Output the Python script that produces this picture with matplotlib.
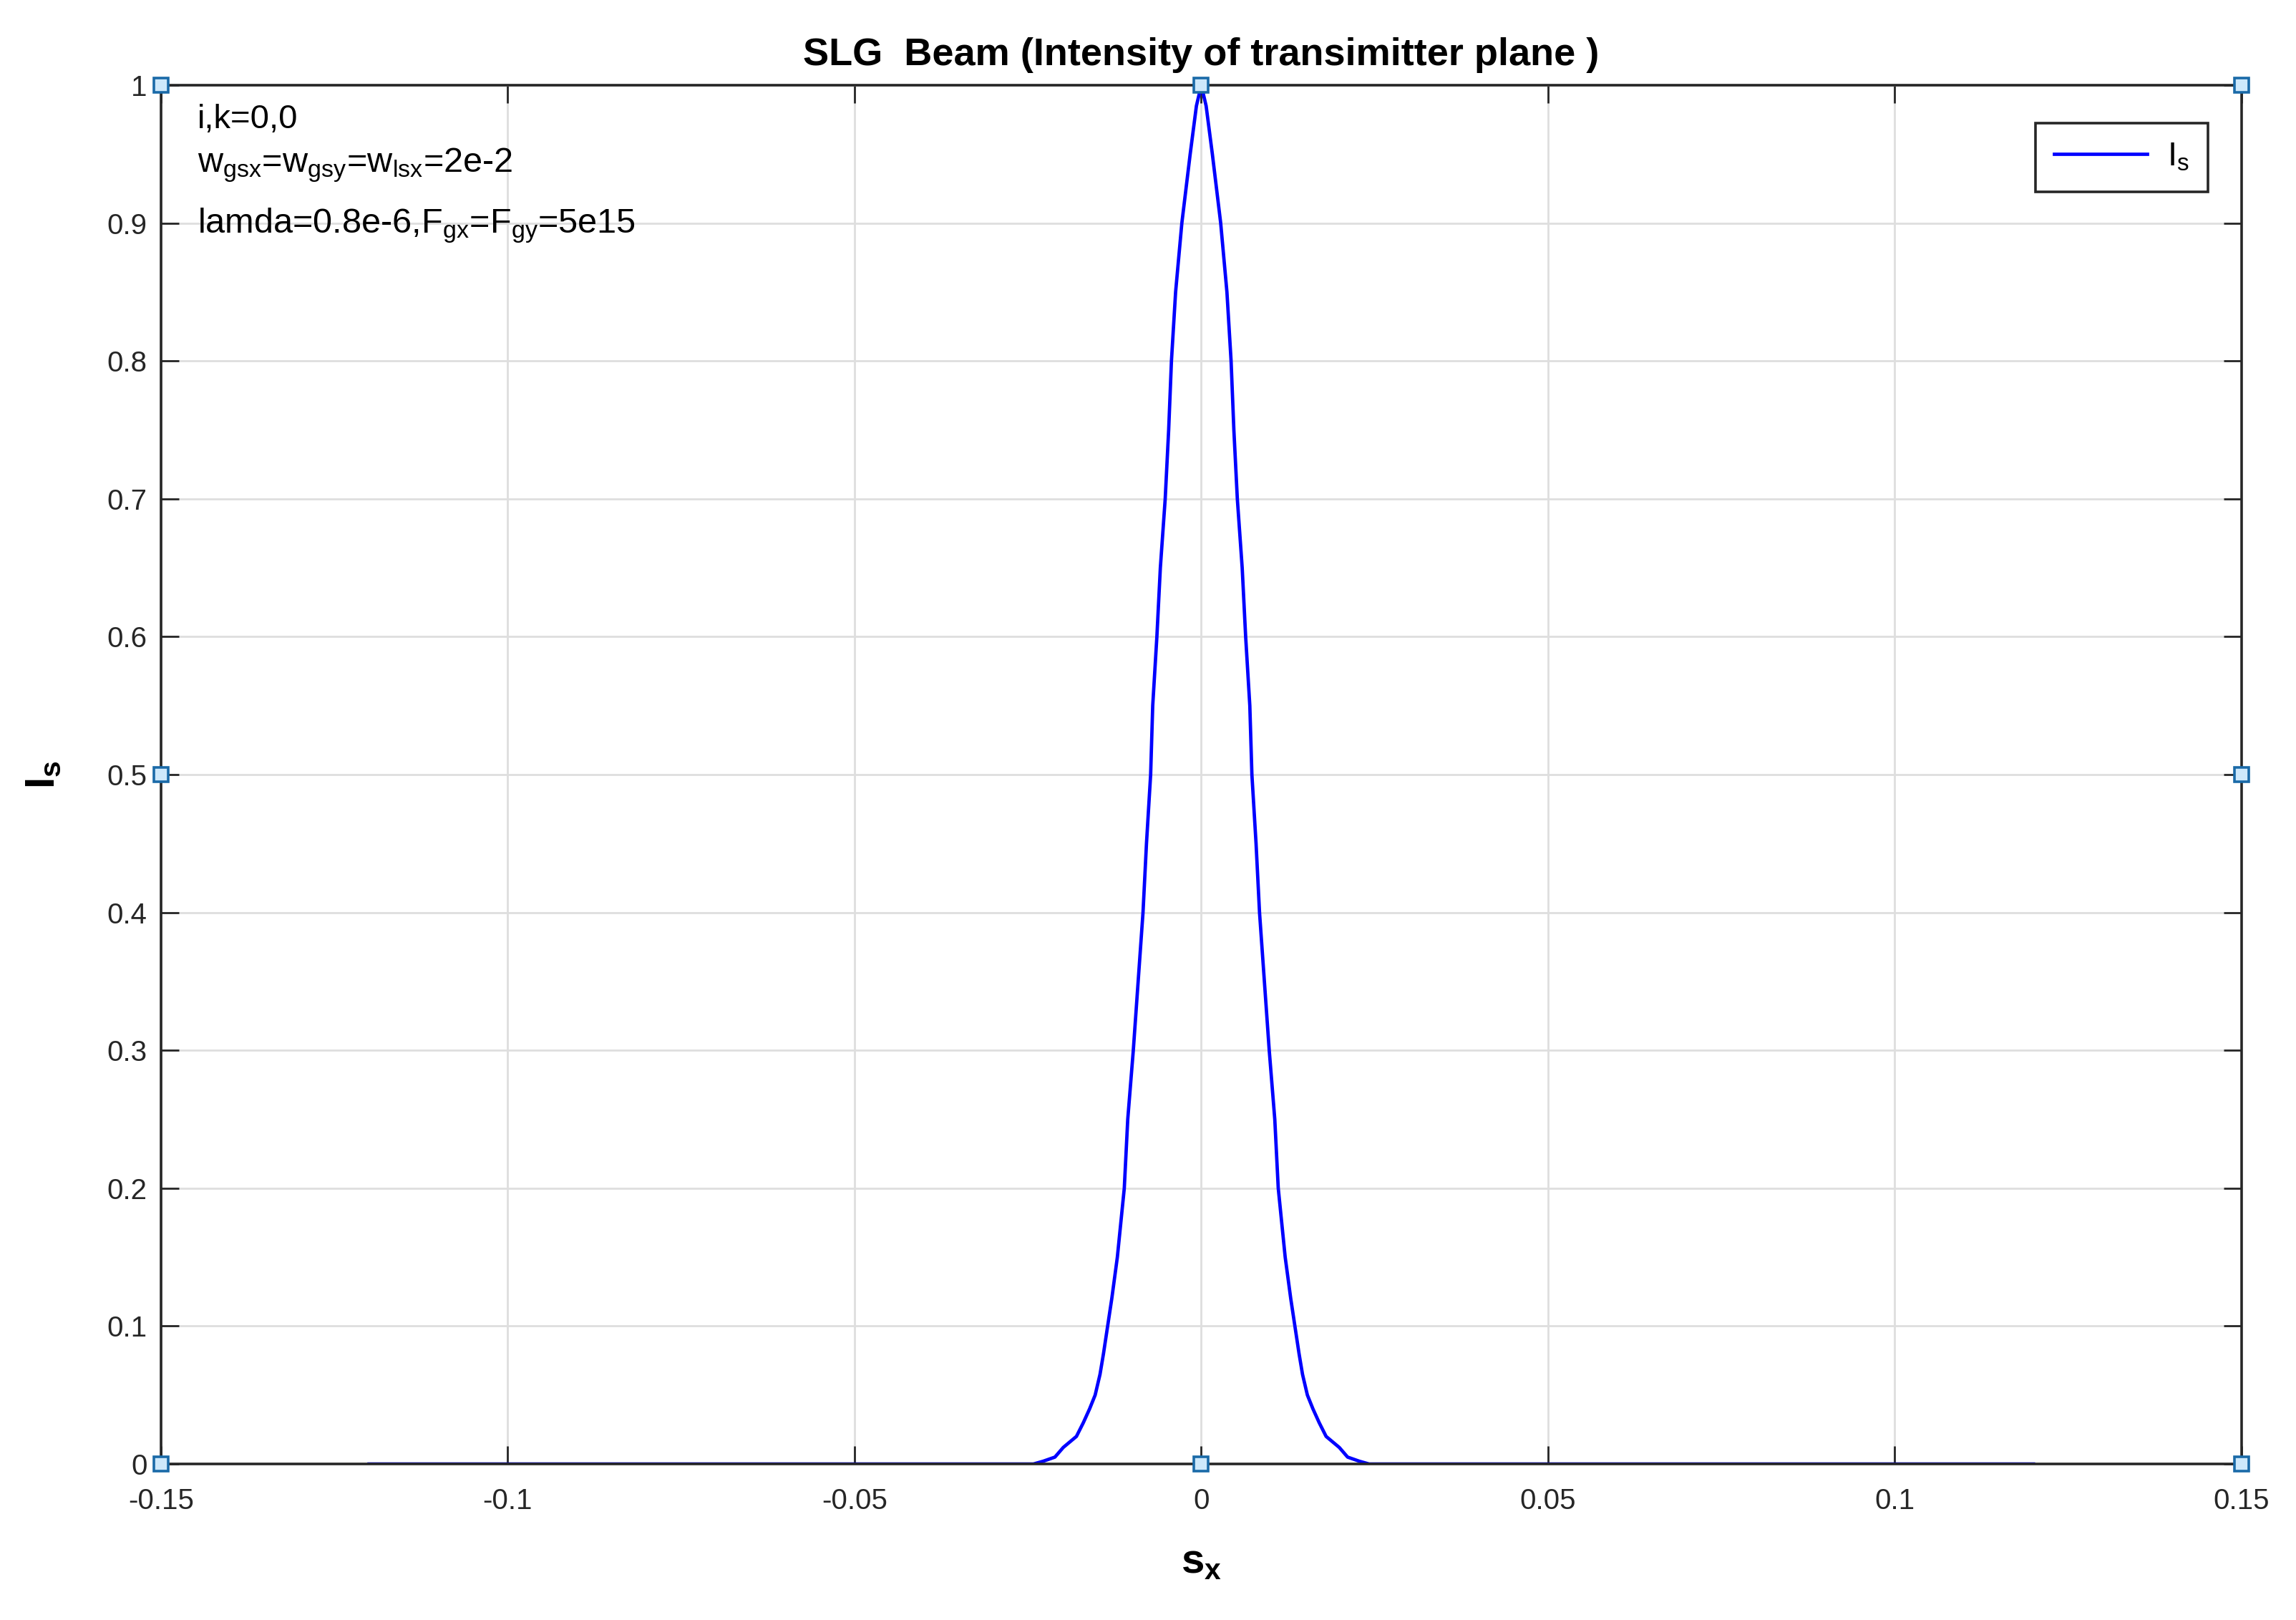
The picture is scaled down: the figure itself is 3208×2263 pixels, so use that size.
import matplotlib
matplotlib.use('Agg')
import matplotlib.pyplot as plt

# intensity profile (left half, outer foot -> peak)
left_sx = [-0.120, -0.0242, -0.0228, -0.0211, -0.0199, -0.0180, -0.0170, -0.0161, -0.0153,
           -0.0146, -0.0141, -0.0135, -0.0129, -0.0121, -0.0111, -0.0106, -0.0098, -0.0091,
           -0.0084, -0.0079, -0.0073, -0.0070, -0.0064, -0.0059, -0.0052, -0.0047, -0.0043,
           -0.0037, -0.0028, -0.0016, -0.0007, 0.0]
left_is = [0.0, 0.0, 0.002, 0.005, 0.012, 0.020, 0.030, 0.040, 0.050,
           0.065, 0.080, 0.100, 0.120, 0.150, 0.200, 0.250, 0.300, 0.350,
           0.400, 0.450, 0.500, 0.550, 0.600, 0.650, 0.700, 0.750, 0.800,
           0.850, 0.900, 0.950, 0.985, 1.0]
# right half (peak -> outer foot)
right_sx = [0.0007, 0.0016, 0.0028, 0.0037, 0.0043, 0.0047, 0.0052, 0.0059, 0.0064,
            0.0070, 0.0073, 0.0079, 0.0084, 0.0091, 0.0098, 0.0106, 0.0111, 0.0121,
            0.0129, 0.0135, 0.0141, 0.0146, 0.0153, 0.0161, 0.0170, 0.0180, 0.0199,
            0.0211, 0.0228, 0.0242, 0.120]
right_is = [0.985, 0.950, 0.900, 0.850, 0.800, 0.750, 0.700, 0.650, 0.600,
            0.550, 0.500, 0.450, 0.400, 0.350, 0.300, 0.250, 0.200, 0.150,
            0.120, 0.100, 0.080, 0.065, 0.050, 0.040, 0.030, 0.020, 0.012,
            0.005, 0.002, 0.0, 0.0]

sx = left_sx + right_sx
intensity = left_is + right_is

# axes selection handles (corners and edge midpoints)
handle_x = [-0.15, 0.0, 0.15, -0.15, 0.15, -0.15, 0.0, 0.15]
handle_y = [1.0, 1.0, 1.0, 0.5, 0.5, 0.0, 0.0, 0.0]

x_ticks = [-0.15, -0.1, -0.05, 0, 0.05, 0.1, 0.15]
x_labels = ['-0.15', '-0.1', '-0.05', '0', '0.05', '0.1', '0.15']
y_ticks = [0, 0.1, 0.2, 0.3, 0.4, 0.5, 0.6, 0.7, 0.8, 0.9, 1]
y_labels = ['0', '0.1', '0.2', '0.3', '0.4', '0.5', '0.6', '0.7', '0.8', '0.9', '1']

plt.rcParams['font.family'] = ['Liberation Sans', 'DejaVu Sans']
plt.rcParams['mathtext.fontset'] = 'custom'
plt.rcParams['mathtext.rm'] = 'Liberation Sans'
plt.rcParams['mathtext.it'] = 'Liberation Sans'
plt.rcParams['mathtext.bf'] = 'Liberation Sans:bold'

dark = '#262626'
fig = plt.figure(figsize=(16.04, 11.315), dpi=200)
ax = fig.add_axes([0.0701, 0.0963, 0.9062, 0.8511])

ax.plot(sx, intensity, color='#0000ff', lw=1.7, label=r'I$_{\mathrm{s}}$')
ax.plot(handle_x, handle_y, ls='none', marker='s', ms=7.5, mfc='#cde8fb', mec='#1a6aa8',
        mew=1.3, clip_on=False, zorder=5)

ax.set_xlim(-0.15, 0.15)
ax.set_ylim(0, 1)
ax.set_xticks(x_ticks, labels=x_labels)
ax.set_yticks(y_ticks, labels=y_labels)
ax.tick_params(direction='in', length=9, width=1.0, color=dark, labelcolor=dark,
               labelsize=14.5, top=True, right=True)
ax.tick_params(axis='x', pad=12)
ax.tick_params(axis='y', pad=7)
ax.grid(True, color='#dedede', lw=1.0)
for sp in ax.spines.values():
    sp.set_color(dark)
    sp.set_linewidth(1.3)

ax.set_title('SLG  Beam (Intensity of transimitter plane )', fontsize=19.5, fontweight='bold',
             pad=10)
ax.set_xlabel(r'$\mathbf{s_x}$', fontsize=21, labelpad=14)
ax.set_ylabel(r'$\mathbf{I_s}$', fontsize=21, labelpad=22)

ax.text(0.0175, 0.975, 'i,k=0,0', transform=ax.transAxes, fontsize=17, va='center')
ax.text(0.0175, 0.942, r'w$_{gsx}$=w$_{gsy}$=w$_{lsx}$=2e-2', transform=ax.transAxes,
        fontsize=17.5, va='center')
ax.text(0.0175, 0.898, r'lamda=0.8e-6,F$_{gx}$=F$_{gy}$=5e15', transform=ax.transAxes,
        fontsize=17.5, va='center')

leg = ax.legend(loc='upper right', bbox_to_anchor=(0.9838, 0.9725), fontsize=17,
                fancybox=False, framealpha=1, edgecolor=dark, handlelength=2.75,
                borderpad=0.55, handletextpad=0.6, borderaxespad=0)
leg.get_frame().set_linewidth(1.3)

fig.savefig('out.png', dpi=200)
